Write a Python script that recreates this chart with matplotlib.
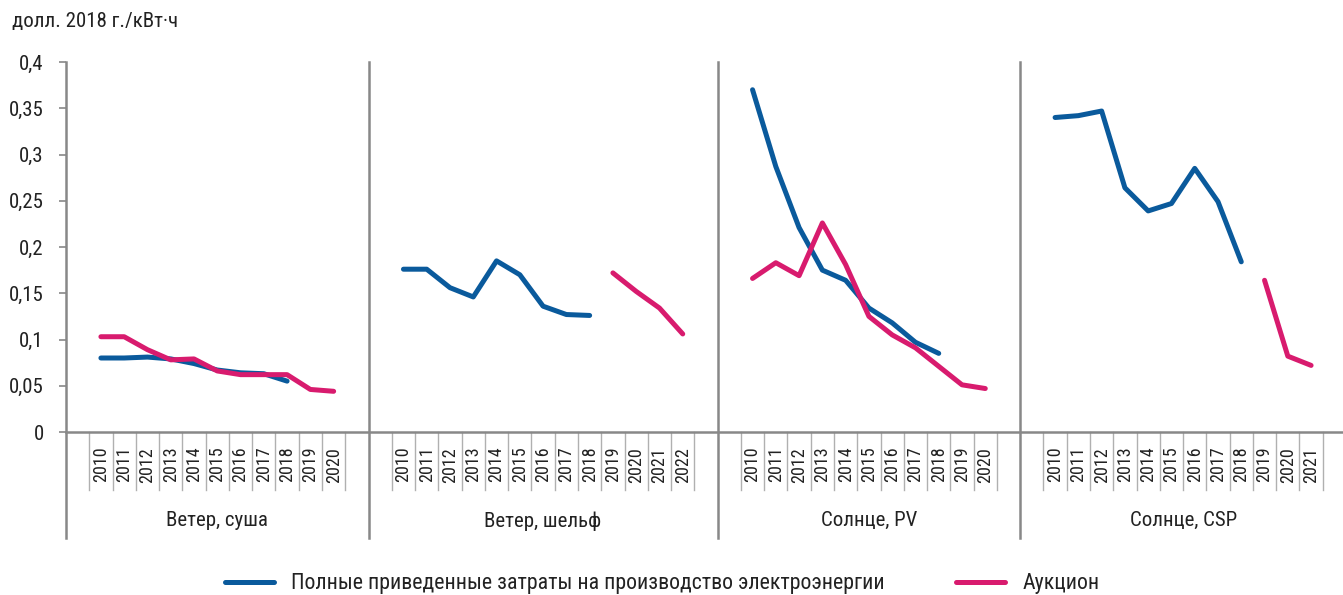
import numpy as np
import matplotlib
matplotlib.use("Agg")
import matplotlib.pyplot as plt
import matplotlib.transforms as mtransforms
from matplotlib.lines import Line2D

nan = np.nan

# --- data ---
group_names = ["Ветер, суша", "Ветер, шельф", "Солнце, PV", "Солнце, CSP"]

years_onshore = ["2010", "2011", "2012", "2013", "2014", "2015", "2016", "2017", "2018", "2019", "2020"]
lcoe_onshore = [0.080, 0.080, 0.081, 0.079, 0.074, 0.067, 0.064, 0.063, 0.055, nan, nan]
auction_onshore = [0.103, 0.103, 0.089, 0.078, 0.079, 0.066, 0.062, 0.062, 0.062, 0.046, 0.044]

years_offshore = ["2010", "2011", "2012", "2013", "2014", "2015", "2016", "2017", "2018", "2019", "2020", "2021", "2022"]
lcoe_offshore = [0.176, 0.176, 0.156, 0.146, 0.185, 0.170, 0.136, 0.127, 0.126, nan, nan, nan, nan]
auction_offshore = [nan, nan, nan, nan, nan, nan, nan, nan, nan, 0.172, 0.152, 0.134, 0.106]

years_pv = ["2010", "2011", "2012", "2013", "2014", "2015", "2016", "2017", "2018", "2019", "2020"]
lcoe_pv = [0.370, 0.287, 0.221, 0.175, 0.164, 0.134, 0.118, 0.097, 0.085, nan, nan]
auction_pv = [0.166, 0.183, 0.169, 0.226, 0.181, 0.125, 0.105, 0.091, 0.071, 0.051, 0.047]

years_csp = ["2010", "2011", "2012", "2013", "2014", "2015", "2016", "2017", "2018", "2019", "2020", "2021"]
lcoe_csp = [0.340, 0.342, 0.347, 0.264, 0.239, 0.247, 0.285, 0.249, 0.184, nan, nan, nan]
auction_csp = [nan, nan, nan, nan, nan, nan, nan, nan, nan, 0.164, 0.082, 0.072]

ytick_values = [0, 0.05, 0.1, 0.15, 0.2, 0.25, 0.3, 0.35, 0.4]
ytick_labels = ["0", "0,05", "0,1", "0,15", "0,2", "0,25", "0,3", "0,35", "0,4"]

unit_label = "долл. 2018 г./кВт·ч"
series_names = ["Полные приведенные затраты на производство электроэнергии", "Аукцион"]

groups = [
    (group_names[0], years_onshore, lcoe_onshore, auction_onshore),
    (group_names[1], years_offshore, lcoe_offshore, auction_offshore),
    (group_names[2], years_pv, lcoe_pv, auction_pv),
    (group_names[3], years_csp, lcoe_csp, auction_csp),
]

# --- style ---
BLUE = "#0A5A9C"
RED = "#D81B6E"
GRAY = "#888888"
LIGHT = "#b0b0b0"
TEXT = "#222222"
plt.rcParams["font.family"] = ["Liberation Sans Narrow", "Roboto Condensed", "Roboto", "DejaVu Sans"]

W, H = 1343, 595
fig = plt.figure(figsize=(W / 100, H / 100), dpi=100)
# each group = blank slot + years + blank slot; last group runs past the right edge
n_slots = sum(len(g[1]) + 2 for g in groups)
ax = fig.add_axes([66 / W, (H - 432) / H, (1346 - 66) / W, (432 - 62) / H])
ax.set_xlim(0, n_slots)
ax.set_ylim(0, 0.4)

trans = mtransforms.blended_transform_factory(ax.transData, ax.transAxes)
lw = 3.6

start = 0
for name, years, lcoe, auction in groups:
    n = len(years)
    x = start + 1.5 + np.arange(n)
    ax.plot(x, lcoe, color=BLUE, lw=lw, solid_capstyle="round", solid_joinstyle="round", zorder=3)
    ax.plot(x, auction, color=RED, lw=lw, solid_capstyle="round", solid_joinstyle="round", zorder=3)

    # group separator (runs from top of plot down through the label rows)
    ax.plot([start, start], [-0.286, 1], transform=trans, color=GRAY, lw=1.8, clip_on=False, zorder=2)
    # small category ticks
    for b in range(start + 1, start + n + 2):
        ax.plot([b, b], [0, -0.157], transform=trans, color=LIGHT, lw=1.0, clip_on=False)
    for xi, yr in zip(x, years):
        ax.text(xi, -0.04, yr, transform=trans, rotation=90, ha="center", va="top",
                fontsize=13, color=TEXT)
    ax.text(start + (n + 2) / 2, -0.24, name, transform=trans, ha="center", va="center",
            fontsize=15, color=TEXT)
    start += n + 2

for s in ["top", "right", "left"]:
    ax.spines[s].set_visible(False)
ax.spines["bottom"].set_color(GRAY)
ax.spines["bottom"].set_linewidth(1.8)

ax.set_xticks([])
ax.set_yticks(ytick_values)
ax.set_yticklabels(ytick_labels)
ax.tick_params(axis="y", length=5, width=1.2, color=GRAY, pad=11, labelsize=15, labelcolor=TEXT)

fig.text(12 / W, 1 - 22 / H, unit_label, ha="left", va="center", fontsize=15, color=TEXT)

handles = [Line2D([], [], color=BLUE, lw=lw, solid_capstyle="round"),
           Line2D([], [], color=RED, lw=lw, solid_capstyle="round")]
fig.legend(handles, series_names, loc="center left", bbox_to_anchor=(225 / W, 11 / H),
           ncol=2, frameon=False, fontsize=15.75, handlelength=2.25, handletextpad=0.78,
           columnspacing=3.25, borderpad=0, borderaxespad=0, labelcolor=TEXT)

fig.savefig("out.png", dpi=100)
